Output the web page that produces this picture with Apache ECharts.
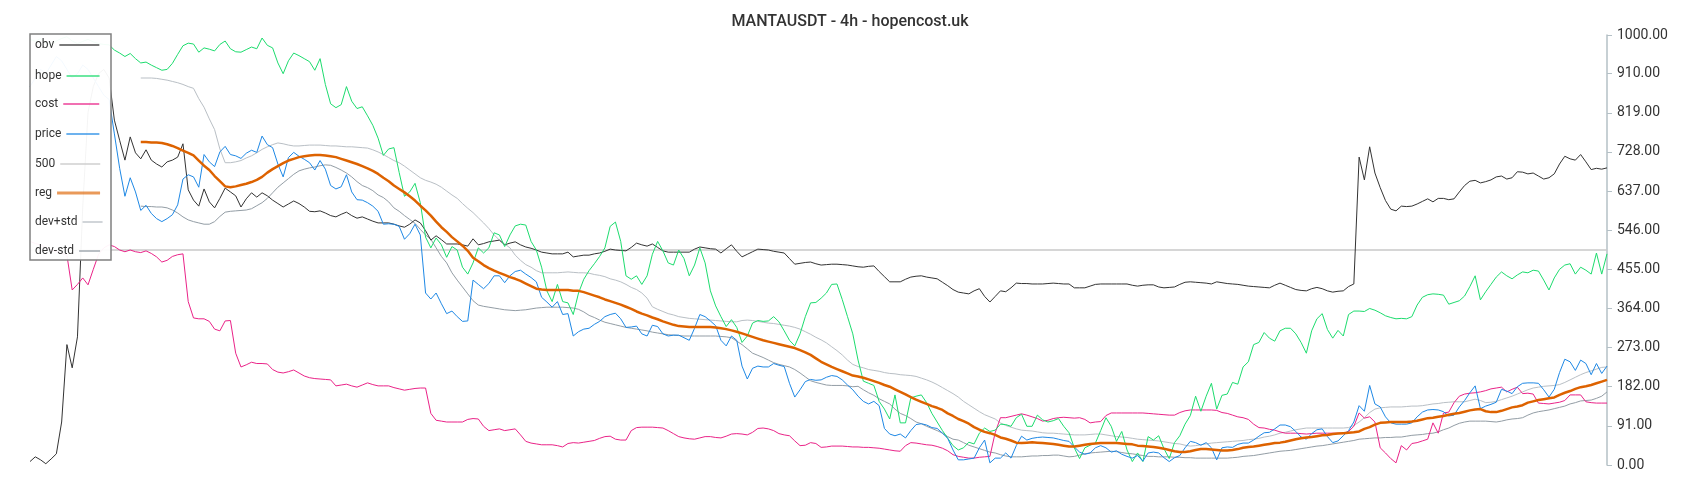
<!DOCTYPE html>
<html>
<head>
<meta charset="utf-8">
<script src="https://cdn.jsdelivr.net/npm/echarts@6/dist/echarts.min.js"></script>
<style>
html,body{margin:0;padding:0;background:#fff;}
#chart{width:1700px;height:500px;}
</style>
</head>
<body>
<div id="chart"></div>
<script>
const yTicks = [0, 91, 182, 273, 364, 455, 546, 637, 728, 819, 910, 1000];
const refLevels = [500];

const obv = [
8,19,12,3,14,26,100,280,226,298,
600,820,880,910,920,900,802,755,709,763,
726,712,733,709,700,693,705,709,716,747,
640,616,602,642,612,598,620,644,635,626,
600,619,633,623,633,626,616,608,600,607,
614,608,600,590,589,591,586,580,577,583,
588,580,574,577,572,567,563,563,563,560,
556,553,560,570,563,545,523,533,524,514,
514,514,512,509,526,512,515,519,521,523,
512,516,519,512,507,504,500,495,493,491,
491,491,495,484,486,488,488,491,493,497,
502,500,499,498,506,516,512,509,514,506,
498,495,495,495,495,495,502,507,505,503,
502,493,503,512,497,484,490,496,502,501,
500,497,495,493,480,467,469,471,472,468,
465,466,467,467,466,465,463,461,460,462,
463,450,438,426,426,426,432,437,439,440,
437,435,433,425,417,408,402,400,398,405,
410,392,379,392,405,403,412,423,422,422,
421,421,421,422,423,422,421,421,412,412,
412,416,420,421,421,421,421,421,421,418,
416,418,419,419,414,412,413,414,420,425,
426,425,424,423,421,426,424,422,421,420,
418,416,415,414,413,412,418,423,418,413,
408,406,405,410,413,410,405,402,404,405,
415,421,716,663,740,679,645,615,595,591,
602,601,602,607,613,619,612,620,620,617,
619,635,650,660,662,656,659,663,670,672,
665,668,682,681,677,679,672,665,668,677,
700,718,712,709,722,705,687,690,688,691
];

const hope = [
990,985,992,982,976,986,992,996,986,980,
985,990,984,980,978,977,965,958,950,957,
945,935,937,930,924,918,920,934,955,975,
981,979,960,970,967,963,978,986,968,961,
960,966,972,968,993,976,970,935,910,940,
958,952,945,938,918,945,885,840,831,838,
880,846,829,833,812,790,760,720,735,738,
680,625,635,655,610,530,505,528,512,483,
508,500,460,444,470,505,493,505,540,535,
508,535,556,560,558,520,500,460,405,380,
420,380,377,350,400,432,452,468,485,505,
555,565,520,440,432,440,420,440,490,520,
498,470,465,500,480,440,465,505,470,405,
370,345,322,338,320,285,300,330,336,334,
335,345,333,312,290,277,305,345,377,378,
388,400,420,421,385,345,305,244,195,190,
185,148,130,107,163,98,98,156,160,163,
145,120,100,80,62,45,35,40,53,49,
74,86,78,81,95,94,90,110,118,90,
90,116,105,100,103,108,90,75,40,15,
40,46,51,80,110,90,55,78,35,8,
28,8,66,58,68,38,15,52,68,95,
115,160,125,160,190,130,162,165,192,188,
228,240,280,285,308,295,288,312,318,318,
305,285,260,312,340,352,315,295,313,300,
350,358,358,357,364,360,354,347,343,340,
341,340,345,372,390,396,398,397,395,374,
378,382,393,415,440,384,403,420,437,449,
440,433,442,449,447,453,451,430,407,435,
455,465,468,444,460,453,444,493,444,491
];

const cost = [
520,515,512,506,500,496,492,488,407,420,
435,419,455,490,505,512,508,500,496,500,
496,494,498,492,484,472,476,485,489,491,
380,342,340,340,334,316,312,335,336,260,
228,233,239,236,236,235,222,216,214,217,
221,214,207,203,201,200,199,198,184,186,
188,184,181,186,191,187,184,184,184,180,
177,174,176,178,179,179,120,104,102,100,
100,100,100,106,108,107,90,80,82,84,
80,82,84,70,55,51,49,47,47,47,
45,42,50,52,51,53,55,57,62,66,
67,60,58,58,80,87,88,88,88,87,
86,80,73,66,63,61,60,63,66,66,
64,63,67,72,73,72,70,76,85,86,
84,80,73,70,68,56,45,46,52,50,
41,42,44,44,44,43,42,42,41,41,
40,39,37,35,33,32,45,52,51,49,
47,46,43,39,33,24,20,18,16,16,
18,19,20,75,110,110,113,116,119,116,
112,108,102,104,108,110,111,110,109,110,
106,98,100,101,115,121,121,121,121,121,
121,121,120,119,118,117,116,116,122,126,
128,128,128,128,128,127,122,120,116,112,
110,106,95,87,86,83,81,77,74,74,
74,73,72,73,74,74,74,74,74,74,
78,90,121,109,112,100,40,28,15,5,
45,35,50,52,56,60,98,74,121,123,
145,160,165,167,168,170,173,177,179,181,
170,176,181,166,167,165,144,143,142,144,
146,150,163,163,163,147,145,144,144,144
];

const price = [
880,900,920,910,930,950,940,920,900,910,
930,920,900,880,860,850,770,690,625,668,
635,592,604,585,573,566,573,582,605,665,
675,670,646,722,705,694,728,741,722,719,
713,725,732,727,765,745,738,700,670,715,
727,718,711,703,686,708,688,650,642,647,
675,635,617,616,610,602,590,560,561,560,
555,525,538,560,535,400,386,400,375,352,
358,345,334,335,430,420,410,422,440,440,
424,440,450,453,444,436,426,390,379,367,
380,350,352,300,310,316,318,327,334,345,
350,353,340,320,321,323,305,300,325,322,
305,300,302,302,296,290,318,350,345,335,
324,290,277,300,290,230,200,225,230,228,
228,236,232,229,190,158,175,194,199,197,
198,204,208,206,198,186,175,160,148,142,
148,138,85,72,68,72,63,80,94,96,
93,87,85,74,62,35,12,12,14,16,
40,58,5,16,16,28,16,45,67,58,
62,64,65,64,63,60,57,55,42,30,
25,28,40,45,40,30,33,25,20,16,
22,9,28,30,28,17,8,17,22,40,
55,52,46,52,40,12,40,42,41,48,
51,51,58,67,75,76,84,93,93,89,
78,65,60,73,82,84,66,52,56,68,
80,100,138,125,185,142,135,112,98,95,
95,95,98,112,123,128,129,128,124,114,
116,135,150,168,184,131,137,141,146,176,
172,166,182,190,191,191,190,175,158,176,
215,246,240,220,244,236,210,236,213,230
];

const reg = [
null,null,null,null,null,null,null,null,null,null,
null,null,null,null,null,null,null,null,null,null,
null,751,751,750,750,749,746,742,737,731,
726,720,708,696,686,672,660,648,646,648,
651,654,658,663,670,680,688,695,702,708,
712,716,718,720,721,721,720,718,716,712,
708,704,700,695,690,684,677,668,660,650,
642,634,625,615,603,592,580,566,553,542,
530,520,510,498,482,474,465,458,452,447,
442,437,433,428,422,416,410,408,407,407,
407,407,407,405,405,402,398,394,390,385,
381,377,373,368,363,357,352,348,343,339,
334,330,326,323,322,321,321,321,321,321,
320,318,316,313,310,306,302,298,294,290,
287,284,281,278,275,272,267,262,256,248,
240,234,228,223,218,213,208,206,203,199,
195,191,186,182,176,170,164,158,152,147,
142,137,133,128,120,114,107,102,96,88,
82,77,74,70,64,61,57,52,51,52,
53,52,51,50,49,47,45,43,43,45,
47,49,50,51,51,51,51,50,49,48,
45,44,43,42,40,38,35,32,30,30,
32,35,37,37,36,35,34,34,35,37,
40,42,43,45,47,49,51,52,54,57,
60,62,64,65,67,69,70,72,73,74,
75,76,78,84,88,94,98,99,100,100,
100,100,101,103,106,109,110,112,114,117,
119,121,124,127,129,130,125,123,123,126,
130,134,136,139,145,148,151,153,155,157,
163,168,172,177,181,183,186,190,194,198
];

const devPlus = [
null,null,null,null,null,null,null,null,null,null,
null,null,null,null,null,null,null,null,null,null,
null,900,900,900,899,897,895,892,889,885,
880,876,852,832,805,780,735,703,703,705,
708,714,719,726,734,740,745,749,747,744,
742,742,743,744,744,744,743,742,742,741,
740,740,739,738,737,733,728,722,715,708,
703,695,686,677,668,662,658,653,646,637,
628,620,608,597,587,575,563,550,535,523,
514,505,488,476,466,460,452,447,447,447,
447,448,449,448,447,447,446,443,441,438,
433,430,426,420,413,408,400,388,368,362,
357,352,349,345,343,341,340,339,338,337,
336,335,334,333,333,336,337,336,334,332,
330,329,327,325,323,320,316,310,304,297,
291,284,275,266,256,244,234,229,226,222,
220,218,215,213,212,210,209,208,206,202,
198,193,187,180,173,166,158,148,140,132,
124,117,112,107,98,92,88,84,81,80,
79,77,75,74,74,73,72,71,70,70,
70,71,72,72,70,68,66,65,64,62,
60,59,58,57,56,54,52,50,49,46,
44,45,47,49,51,52,53,54,55,56,
57,59,60,62,65,67,70,74,76,79,
82,84,86,86,86,86,86,86,86,86,
87,92,100,110,122,130,133,134,135,135,
135,136,137,137,138,140,142,143,145,146,
147,147,147,150,153,150,145,146,148,152,
156,160,165,170,175,179,181,183,184,185,
187,192,198,204,210,215,219,223,227,228
];

const devMinus = [
null,null,null,null,null,null,null,null,null,null,
null,null,null,null,null,null,null,null,null,null,
null,602,601,601,600,600,598,593,586,577,
570,566,563,560,560,566,578,588,590,591,
592,593,596,603,610,620,633,646,656,666,
676,684,688,691,693,696,698,697,692,686,
679,670,659,650,645,638,628,622,612,598,
590,580,571,562,548,535,525,505,485,470,
447,430,414,398,382,372,369,367,365,363,
361,360,359,360,361,363,365,366,367,367,
367,367,366,365,362,356,348,343,337,332,
329,326,323,320,318,316,314,312,309,307,
305,303,302,301,300,300,300,300,300,300,
300,299,298,296,288,280,270,260,255,250,
244,238,234,231,228,222,214,205,196,192,
189,186,185,185,185,184,182,183,175,168,
162,154,148,142,130,120,115,108,100,96,
90,85,80,74,66,60,58,52,46,42,
38,34,30,28,24,21,19,19,19,20,
21,21,22,22,23,23,21,19,20,23,
26,28,29,30,31,32,31,29,27,26,
24,22,20,20,19,19,19,18,18,17,
17,16,16,16,16,16,16,16,17,18,
20,21,22,24,26,28,30,32,33,34,
36,38,40,42,44,45,47,49,51,53,
55,57,60,61,62,63,63,64,64,65,
65,67,69,70,71,73,74,77,82,86,
92,97,100,102,102,102,102,101,100,102,
105,107,108,110,116,121,124,126,128,131,
134,137,142,145,149,150,151,155,160,170
];

const categories = obv.map((_, i) => String(i));

const legendItems = [
  { name: 'obv', top: 38, w: 40, h: 2 },
  { name: 'hope', top: 69, w: 33, h: 2 },
  { name: 'cost', top: 97, w: 36, h: 2 },
  { name: 'price', top: 127, w: 33, h: 2 },
  { name: '500', top: 157, w: 40, h: 2 },
  { name: 'reg', top: 186, w: 43, h: 3 },
  { name: 'dev+std', top: 215, w: 20, h: 2 },
  { name: 'dev-std', top: 244, w: 21, h: 2 }
];

const FONT = 'Roboto, "Noto Sans", sans-serif';

function lineSeries(name, data, color, width, z) {
  return {
    name: name, type: 'line', data: data, color: color,
    symbol: 'none', showSymbol: false, smooth: false,
    lineStyle: { color: color, width: width },
    emphasis: { disabled: true }, z: z, animation: false
  };
}

const chart = echarts.init(document.getElementById('chart'), null, { renderer: 'canvas' });
chart.setOption({
  backgroundColor: '#ffffff',
  animation: false,
  title: {
    text: 'MANTAUSDT - 4h - hopencost.uk',
    left: 'center', top: 9,
    textStyle: { fontSize: 16, fontWeight: 500, color: '#333', fontFamily: FONT }
  },
  grid: { left: 30, right: 93, top: 35, bottom: 35, containLabel: false },
  xAxis: {
    type: 'category', data: categories, boundaryGap: false,
    axisLine: { show: false }, axisTick: { show: false }, axisLabel: { show: false }, splitLine: { show: false }
  },
  yAxis: {
    type: 'value', position: 'right', min: yTicks[0], max: yTicks[yTicks.length - 1], interval: yTicks[1] - yTicks[0],
    axisLine: { show: true, lineStyle: { color: '#b4c0c6', width: 1.5 } },
    axisTick: { show: true, length: 5, lineStyle: { color: '#b4c0c6' } },
    axisLabel: { formatter: v => v.toFixed(2), fontSize: 14, color: '#333', fontFamily: FONT, margin: 10 },
    splitLine: { show: false }
  },
  legend: legendItems.map(it => ({
    data: [{ name: it.name, icon: 'rect' }], orient: 'vertical', left: 35, top: it.top, align: 'right',
    itemWidth: it.w, itemHeight: it.h, itemGap: 0, padding: 0,
    itemStyle: { opacity: 0.65, borderWidth: 0 },
    textStyle: { fontSize: 12, color: '#333', fontFamily: FONT, lineHeight: 14 }
  })),
  graphic: [{
    type: 'rect', z: 3,
    shape: { x: 30, y: 34, width: 81, height: 226 },
    style: { fill: 'rgba(255,255,255,0.95)', stroke: '#808080', lineWidth: 1.5 }
  }],
  series: [
    Object.assign(lineSeries('500', [], '#c8c8c8', 1.5, 1), {
      markLine: {
        silent: true, z: 1, symbol: ['none', 'none'], label: { show: false },
        lineStyle: { color: '#c8c8c8', width: 1.5, type: 'solid' },
        data: refLevels.map(v => ({ yAxis: v })), animation: false
      }
    }),
    lineSeries('dev+std', devPlus, '#b9bfc5', 1, 2),
    lineSeries('dev-std', devMinus, '#939da5', 1, 2),
    lineSeries('obv', obv, '#333333', 1, 2),
    lineSeries('cost', cost, '#ea2388', 1, 2),
    lineSeries('hope', hope, '#1ddc6e', 1, 2),
    lineSeries('price', price, '#1e88e5', 1, 2),
    lineSeries('reg', reg, '#dd6200', 2.5, 2)
  ]
});
</script>
</body>
</html>
